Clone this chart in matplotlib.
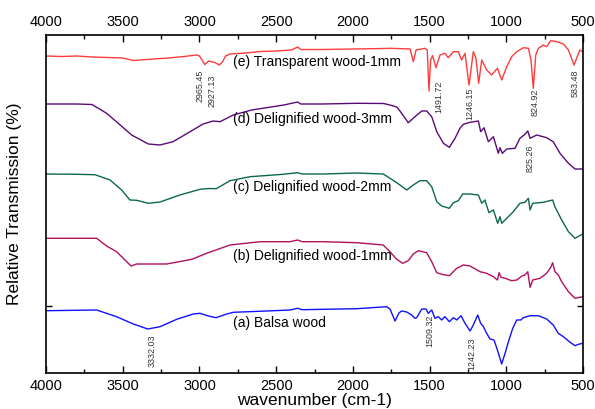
import matplotlib
matplotlib.use("Agg")
import matplotlib.pyplot as plt
from matplotlib.ticker import MultipleLocator

plt.rcParams['font.family'] = ['Liberation Sans', 'DejaVu Sans']

# ---- data (wavenumber, relative transmission, arbitrary offset units) ----
e_w = [4000, 3900, 3800, 3700, 3600, 3500, 3430, 3300, 3200, 3100, 3020, 3000, 2965, 2940, 2900, 2870, 2850, 2830, 2800, 2700, 2600, 2500, 2400, 2360, 2340, 2200, 2000, 1800, 1758, 1627, 1606, 1588, 1530, 1515, 1504, 1493, 1480, 1458, 1432, 1400, 1378, 1345, 1313, 1291, 1269, 1243, 1215, 1198, 1180, 1160, 1128, 1095, 1058, 1030, 997, 965, 932, 889, 856, 839, 824, 808, 791, 759, 737, 710, 671, 628, 595, 558, 541, 520, 502]
e_t = [317, 316.5, 317, 316, 315.5, 315, 312.5, 314, 315, 316.5, 318, 317, 308.5, 312, 310.5, 308, 311, 317, 319, 320, 321.5, 322, 323, 326, 323.5, 323.5, 324, 324.5, 324.7, 324, 311.3, 323, 324.7, 323, 282, 313, 317.3, 305.3, 318, 319.7, 315.3, 321.3, 321.3, 313, 319.7, 288, 321.3, 315, 289.7, 313, 303, 298, 304.7, 293, 306.3, 316.3, 321.3, 325.3, 324.7, 313, 284.7, 318, 324.7, 328, 326.3, 332.3, 331.3, 329, 323, 308, 315, 323, 321.3]

d_w = [4000, 3800, 3700, 3605, 3539, 3442, 3333, 3257, 3172, 3061, 2976, 2911, 2866, 2779, 2660, 2562, 2450, 2360, 2340, 2200, 1975, 1800, 1758, 1714, 1693, 1660, 1639, 1595, 1551, 1519, 1486, 1453, 1410, 1371, 1334, 1302, 1280, 1236, 1182, 1167, 1145, 1117, 1084, 1052, 1041, 1026, 997, 943, 911, 878, 860, 845, 802, 737, 694, 650, 595, 552, 502]
d_t = [269, 269, 268.5, 259.7, 251, 238, 229, 228, 231.3, 241.3, 249, 252, 251.3, 258, 263, 265.3, 268, 271, 269, 269, 269.7, 269.5, 268, 266, 262, 255, 250.3, 256.3, 262, 262, 256.3, 241.3, 229.7, 225.7, 234.7, 244.7, 248.7, 250.7, 252, 241.3, 245.3, 231.3, 236.3, 219.7, 225.3, 219.7, 224, 224.7, 234.7, 238.7, 242, 234.7, 238, 235.3, 231.3, 219.7, 209.7, 204, 204]

c_w = [4000, 3800, 3681, 3583, 3507, 3453, 3409, 3333, 3257, 3127, 2996, 2940, 2890, 2801, 2670, 2455, 2360, 2330, 2193, 1975, 1802, 1758, 1714, 1649, 1606, 1563, 1519, 1486, 1453, 1421, 1371, 1345, 1313, 1284, 1236, 1182, 1160, 1139, 1113, 1084, 1056, 1041, 1030, 997, 954, 911, 878, 856, 845, 828, 759, 698, 683, 639, 595, 552, 502]
c_t = [199, 198.7, 198.3, 193, 183, 173, 172.7, 169.7, 171, 178, 183.7, 184.5, 184.3, 192.3, 196.3, 198.7, 200.3, 199, 199, 200, 199, 194.7, 190.3, 183, 188, 192.3, 192.3, 186.3, 171.3, 167, 164.7, 170.3, 172.3, 179, 179, 178, 169.7, 173, 160.3, 163, 149.7, 156.3, 149.7, 154.7, 161.3, 169.7, 170.7, 174.7, 163, 169.7, 170.7, 173, 166.3, 153, 141.3, 134.7, 139]

b_w = [4000, 3670, 3605, 3540, 3474, 3446, 3409, 3213, 3050, 2953, 2801, 2605, 2410, 2360, 2330, 2193, 1975, 1802, 1758, 1714, 1675, 1639, 1606, 1573, 1519, 1486, 1453, 1421, 1371, 1323, 1280, 1236, 1171, 1128, 1084, 1058, 1047, 1034, 1008, 965, 932, 898, 878, 860, 845, 828, 780, 737, 710, 698, 683, 661, 639, 595, 552, 502]
b_t = [134.7, 134.7, 127, 121.3, 111.3, 107, 109, 109, 113.7, 119.7, 128, 131.3, 131.3, 133, 131.3, 131.3, 130.3, 128, 121.3, 113.7, 109.7, 112.3, 119, 122.3, 120.3, 111.3, 100.3, 98.7, 97.3, 104.7, 108, 107, 101.3, 99.7, 96.3, 93, 100.3, 95.7, 94.7, 92.3, 93, 97, 98, 101.3, 85.7, 93, 94.7, 99.7, 105.7, 110.3, 101.3, 98, 91.3, 81.3, 74.7, 76.3]

a_w = [4000, 3670, 3540, 3431, 3337, 3257, 3148, 3040, 2996, 2942, 2892, 2822, 2779, 2562, 2410, 2360, 2330, 2193, 1975, 1780, 1758, 1725, 1700, 1682, 1649, 1617, 1595, 1584, 1551, 1523, 1508, 1486, 1465, 1443, 1421, 1400, 1371, 1345, 1323, 1295, 1269, 1236, 1215, 1186, 1167, 1149, 1128, 1106, 1080, 1058, 1030, 1008, 986, 958, 932, 906, 889, 845, 791, 737, 694, 661, 628, 584, 552, 530, 502]
a_t = [62.3, 63, 56.3, 49, 44, 46.3, 53.7, 59, 59.7, 57, 55.3, 59, 60.7, 62, 63, 64.7, 63.3, 63.7, 64.3, 66.3, 64, 52, 60, 62, 61, 58, 54.7, 55.3, 64, 64, 59.7, 63, 54.7, 56.3, 53, 56.3, 51.3, 55.3, 53, 57.3, 49.7, 42, 48, 58, 49.7, 46.3, 39.7, 34, 33, 23, 9, 19.7, 31.3, 44.7, 53, 53, 55.3, 57.3, 57.3, 54, 48, 39.7, 36.3, 30.7, 27.3, 28.7, 29.7]

series_names = ["(e) Transparent wood-1mm", "(d) Delignified wood-3mm",
                "(c) Delignified wood-2mm", "(b) Delignified wood-1mm",
                "(a) Balsa wood"]
series_colors = ["#ff3b3b", "#5a0a78", "#0b6a45", "#b0105e", "#1010ff"]
name_w = 2781
name_t = [311, 254, 186, 117, 50]

peak_labels = ["2965.45", "2927.13", "1491.72", "1246.15", "824.92", "583.48",
               "825.26", "3332.03", "1509.32", "1242.23"]
peak_w = [2996, 2918, 1443, 1236, 813, 552, 845, 3311, 1497, 1225]
peak_t = [287, 282, 276, 269, 271, 289.5, 214.5, 22.5, 42, 19.5]

xticks = [4000, 3500, 3000, 2500, 2000, 1500, 1000, 500]

fig = plt.figure(figsize=(5.95, 4.09), dpi=100)
ax = fig.add_axes([46/595, 1-373/409, (583-46)/595, (373-35)/409])

for w, t, c in zip([e_w, d_w, c_w, b_w, a_w], [e_t, d_t, c_t, b_t, a_t], series_colors):
    ax.plot(w, t, color=c, lw=1.0)

for name, t in zip(series_names, name_t):
    ax.text(name_w, t, name, fontsize=10, ha='left', va='center', color='black')

for lab, w, t in zip(peak_labels, peak_w, peak_t):
    ax.text(w, t, lab, fontsize=6.4, rotation=90, ha='center', va='center',
            color='#333333')

ax.set_xlim(4000, 500)
ax.set_ylim(0, 338)
ax.set_xticks(xticks)
ax.xaxis.set_minor_locator(MultipleLocator(250))
ax.set_yticks([67])
ax.set_yticklabels([])
ax.tick_params(axis='x', which='both', direction='in', top=True, bottom=True,
               labeltop=True, labelbottom=True, labelsize=10.5, pad=4)
ax.tick_params(axis='x', which='major', length=5, width=1)
ax.tick_params(axis='x', which='minor', length=3, width=1)
ax.tick_params(axis='y', direction='in', left=True, right=True, length=4, width=1)
for s in ax.spines.values():
    s.set_linewidth(1.2)

ax.set_xlabel("wavenumber (cm-1)", fontsize=12.5, labelpad=0)
ax.set_ylabel("Relative Transmission (%)", fontsize=12.5, labelpad=14)

fig.savefig("out.png", dpi=100)
